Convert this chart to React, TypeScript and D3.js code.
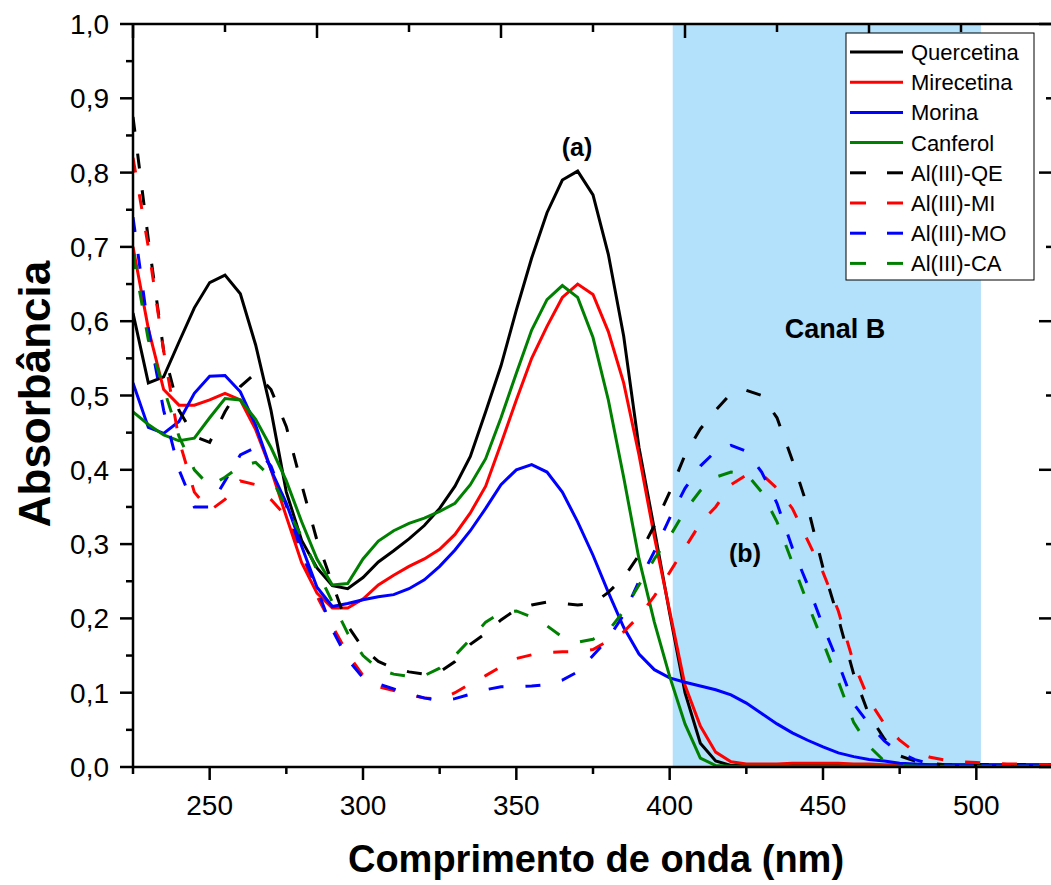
import React from "react";
import * as d3 from "d3";

const wavelengths = [225,230,235,240,245,250,255,260,265,270,275,280,285,290,295,300,305,310,315,320,325,330,335,340,345,350,355,360,365,370,375,380,385,390,395,400,405,410,415,420,425,430,435,440,445,450,455,460,465,470,475,480,485,490,495,500,505,510,515,520,525];

const quercetina = [0.611,0.517,0.525,0.572,0.618,0.652,0.662,0.637,0.568,0.48,0.37,0.305,0.268,0.244,0.240,0.255,0.276,0.291,0.307,0.325,0.348,0.378,0.418,0.478,0.54,0.615,0.685,0.746,0.79,0.802,0.77,0.69,0.58,0.43,0.32,0.207,0.10,0.032,0.008,0.002,0.002,0.002,0.002,0.002,0.002,0.002,0.002,0.002,0.002,0.002,0.002,0.002,0.002,0.002,0.002,0.002,0.002,0.002,0.002,0.002,0.002];
const mirecetina = [0.70,0.59,0.508,0.487,0.487,0.494,0.503,0.494,0.454,0.40,0.337,0.275,0.234,0.214,0.214,0.226,0.245,0.258,0.27,0.28,0.293,0.313,0.342,0.378,0.435,0.494,0.55,0.593,0.632,0.650,0.636,0.586,0.517,0.42,0.31,0.21,0.11,0.055,0.02,0.007,0.004,0.004,0.004,0.005,0.005,0.005,0.005,0.004,0.004,0.003,0.003,0.003,0.003,0.003,0.003,0.003,0.003,0.003,0.003,0.003,0.003];
const morina = [0.517,0.457,0.449,0.465,0.503,0.526,0.527,0.505,0.46,0.40,0.355,0.297,0.242,0.216,0.22,0.225,0.229,0.232,0.24,0.252,0.27,0.292,0.318,0.348,0.38,0.40,0.407,0.397,0.37,0.33,0.285,0.235,0.188,0.152,0.131,0.12,0.114,0.109,0.104,0.097,0.086,0.072,0.058,0.046,0.036,0.027,0.019,0.014,0.010,0.008,0.005,0.004,0.003,0.003,0.003,0.003,0.003,0.003,0.003,0.003,0.003];
const canferol = [0.478,0.461,0.447,0.439,0.4425,0.47,0.496,0.494,0.468,0.43,0.385,0.33,0.28,0.245,0.247,0.28,0.304,0.318,0.328,0.335,0.344,0.355,0.38,0.415,0.47,0.53,0.588,0.629,0.648,0.632,0.578,0.494,0.39,0.28,0.195,0.122,0.058,0.012,0.002,0.001,0.001,0.001,0.001,0.001,0.001,0.001,0.001,0.001,0.001,0.001,0.001,0.001,0.001,0.001,0.001,0.001,0.001,0.001,0.001,0.001,0.001];
const alQE = [0.875,0.71,0.56,0.48,0.445,0.437,0.478,0.512,0.53,0.508,0.458,0.38,0.305,0.247,0.19,0.16,0.142,0.133,0.128,0.125,0.128,0.142,0.165,0.18,0.198,0.212,0.218,0.222,0.22,0.218,0.22,0.235,0.255,0.285,0.325,0.37,0.42,0.455,0.48,0.503,0.507,0.50,0.47,0.413,0.35,0.268,0.20,0.125,0.07,0.038,0.015,0.008,0.005,0.003,0.003,0.003,0.003,0.003,0.003,0.003,0.003];
const alMI = [0.82,0.70,0.56,0.44,0.37,0.345,0.36,0.385,0.38,0.36,0.337,0.29,0.23,0.19,0.152,0.123,0.108,0.103,0.097,0.093,0.091,0.1,0.112,0.123,0.135,0.146,0.151,0.154,0.155,0.155,0.158,0.17,0.182,0.203,0.23,0.262,0.295,0.328,0.35,0.38,0.393,0.394,0.375,0.348,0.305,0.262,0.21,0.14,0.09,0.058,0.036,0.02,0.013,0.009,0.007,0.006,0.005,0.004,0.004,0.003,0.003];
const alMO = [0.74,0.59,0.48,0.40,0.35,0.35,0.385,0.42,0.43,0.405,0.352,0.29,0.24,0.185,0.145,0.12,0.112,0.105,0.098,0.093,0.089,0.092,0.098,0.104,0.108,0.108,0.109,0.111,0.117,0.128,0.15,0.173,0.205,0.25,0.29,0.335,0.375,0.405,0.425,0.433,0.425,0.397,0.355,0.295,0.245,0.19,0.14,0.085,0.058,0.035,0.019,0.01,0.004,0.003,0.002,0.002,0.002,0.002,0.002,0.002,0.002];
const alCA = [0.69,0.575,0.51,0.445,0.40,0.378,0.39,0.405,0.41,0.39,0.35,0.31,0.265,0.222,0.18,0.15,0.132,0.125,0.122,0.123,0.133,0.15,0.172,0.195,0.208,0.21,0.202,0.19,0.175,0.168,0.172,0.183,0.21,0.245,0.28,0.31,0.345,0.372,0.39,0.397,0.395,0.37,0.33,0.275,0.22,0.168,0.115,0.06,0.028,0.008,0.002,0.001,0.001,0.001,0.001,0.001,0.001,0.001,0.001,0.001,0.001];

const seriesNames = ["Quercetina","Mirecetina","Morina","Canferol","Al(III)-QE","Al(III)-MI","Al(III)-MO","Al(III)-CA"];
const seriesValues = [quercetina, mirecetina, morina, canferol, alQE, alMI, alMO, alCA];
const seriesColors = ["#000000","#ff0000","#0000ff","#008000","#000000","#ff0000","#0000ff","#008000"];
const seriesDashed = [false,false,false,false,true,true,true,true];

const xMajorTicks = [250,300,350,400,450,500];
const xMinorTicks = [225,275,325,375,425,475,525];
const yMajorTicks = [0,0.1,0.2,0.3,0.4,0.5,0.6,0.7,0.8,0.9,1.0];
const yMinorTicks = [0.05,0.15,0.25,0.35,0.45,0.55,0.65,0.75,0.85,0.95];
const topMajorTicks = [225,285,345,405,465,525];
const topMinorTicks = [255,315,375,435,495];
const rightMajorTicks = [0,0.2,0.4,0.6,0.8,1.0];
const rightMinorTicks = [0.1,0.3,0.5,0.7,0.9];
const bandRange = [401,501.5];

const W = 1051, H = 885;
const L = 133, R = 1053, T = 24, B = 767;
const FONT = "'Liberation Sans', Arial, sans-serif";

export default function App() {
  const x = d3.scaleLinear().domain([225, 525]).range([L, R]);
  const y = d3.scaleLinear().domain([0, 1]).range([B, T]);
  const fmt = (v: number) => d3.format(".1f")(v).replace(".", ",");

  const line = (vals: number[]) =>
    d3.line<number>().x((_, i) => x(wavelengths[i])).y((d) => y(d))(vals) || "";

  const legendX = 846, legendY = 33, legendW = 188, legendH = 247;
  const rowH = 30.2;

  return (
    <svg width={W} height={H} style={{ position: "absolute", left: 0, top: 0, background: "#fff" }} fontFamily={FONT}>
      <defs>
        <clipPath id="plotClip">
          <rect x={L} y={T} width={R - L} height={B - T} />
        </clipPath>
      </defs>
      <rect x={x(bandRange[0])} y={T} width={x(bandRange[1]) - x(bandRange[0])} height={B - T} fill="#b3e0fa" />

      <g clipPath="url(#plotClip)">
        {seriesValues.map((vals, i) => (
          <path key={i} d={line(vals)} fill="none" stroke={seriesColors[i]} strokeWidth={3}
            strokeDasharray={seriesDashed[i] ? "15,22" : undefined} strokeLinejoin="miter" />
        ))}
      </g>

      <g stroke="#000" strokeWidth={2.5} fill="none">
        <line x1={L} y1={B} x2={R} y2={B} />
        <line x1={L} y1={T} x2={L} y2={B + 1} />
        <line x1={L} y1={T} x2={R} y2={T} />
        <line x1={R} y1={T} x2={R} y2={B} />
      </g>
      <g stroke="#000" strokeWidth={2.5}>
        {xMajorTicks.map((t) => <line key={"xM" + t} x1={x(t)} x2={x(t)} y1={B} y2={B + 13} />)}
        {xMinorTicks.map((t) => <line key={"xm" + t} x1={x(t)} x2={x(t)} y1={B} y2={B + 7} />)}
        {yMajorTicks.map((t) => <line key={"yM" + t} x1={L - 13} x2={L} y1={y(t)} y2={y(t)} />)}
        {yMinorTicks.map((t) => <line key={"ym" + t} x1={L - 7} x2={L} y1={y(t)} y2={y(t)} />)}
        {topMajorTicks.map((t) => <line key={"tM" + t} x1={x(t)} x2={x(t)} y1={T} y2={T + 14} />)}
        {topMinorTicks.map((t) => <line key={"tm" + t} x1={x(t)} x2={x(t)} y1={T} y2={T + 8} />)}
        {rightMajorTicks.map((t) => <line key={"rM" + t} x1={R - 14} x2={R} y1={y(t)} y2={y(t)} />)}
        {rightMinorTicks.map((t) => <line key={"rm" + t} x1={R - 7} x2={R} y1={y(t)} y2={y(t)} />)}
      </g>

      <g fontSize={28} fill="#000">
        {xMajorTicks.map((t) => (
          <text key={"xl" + t} x={x(t)} y={B + 48} textAnchor="middle">{t}</text>
        ))}
        {yMajorTicks.map((t) => (
          <text key={"yl" + t} x={L - 24} y={y(t) + 10} textAnchor="end">{fmt(t)}</text>
        ))}
      </g>

      <text x={596} y={872} textAnchor="middle" fontSize={38} fontWeight="bold">Comprimento de onda (nm)</text>
      <text transform={`translate(50, 394) rotate(-90)`} textAnchor="middle" fontSize={44} fontWeight="bold">Absorbância</text>

      <text x={577} y={156} textAnchor="middle" fontSize={25} fontWeight="bold">(a)</text>
      <text x={745} y={562} textAnchor="middle" fontSize={25} fontWeight="bold">(b)</text>
      <text x={835} y={338} textAnchor="middle" fontSize={27} fontWeight="bold">Canal B</text>

      <g>
        <rect x={legendX} y={legendY} width={legendW} height={legendH} fill="#fff" stroke="#000" strokeWidth={1} />
        {seriesNames.map((name, i) => {
          const cy = 52 + i * rowH;
          return (
            <g key={name}>
              {seriesDashed[i] ? (
                <>
                  <line x1={850} x2={866} y1={cy} y2={cy} stroke={seriesColors[i]} strokeWidth={3} />
                  <line x1={887} x2={903} y1={cy} y2={cy} stroke={seriesColors[i]} strokeWidth={3} />
                </>
              ) : (
                <line x1={850} x2={903} y1={cy} y2={cy} stroke={seriesColors[i]} strokeWidth={3} />
              )}
              <text x={911} y={cy + 8} fontSize={22}>{name}</text>
            </g>
          );
        })}
      </g>
    </svg>
  );
}
